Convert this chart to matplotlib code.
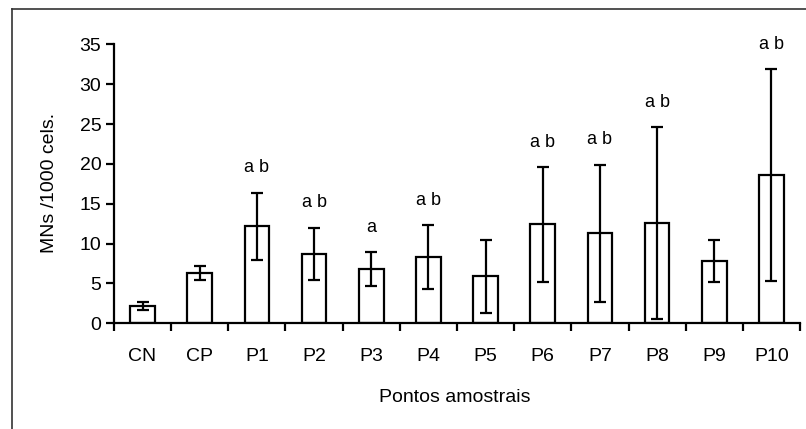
import matplotlib.pyplot as plt
import numpy as np
from matplotlib.lines import Line2D

plt.rcParams['font.family'] = ['Liberation Sans', 'DejaVu Sans']

# dados
categorias = ["CN", "CP", "P1", "P2", "P3", "P4", "P5", "P6", "P7", "P8", "P9", "P10"]
medias = [2.2, 6.3, 12.2, 8.7, 6.8, 8.3, 5.9, 12.4, 11.3, 12.6, 7.8, 18.6]
erros = [0.5, 0.9, 4.2, 3.3, 2.1, 4.0, 4.6, 7.2, 8.6, 12.0, 2.6, 13.3]
letras = ["", "", "a b", "a b", "a", "a b", "", "a b", "a b", "a b", "", "a b"]

fig = plt.figure(figsize=(8.06, 4.29), dpi=100)
ax = fig.add_axes([0.1414, 0.2464, 0.8512, 0.6503])

x = np.arange(len(categorias))
ax.bar(x, medias, width=0.43, color="white", edgecolor="black", linewidth=1.6, zorder=2)
ax.errorbar(x, medias, yerr=erros, fmt="none", ecolor="black", elinewidth=1.6,
            capsize=4, capthick=1.6, zorder=3)

for xi, m, e, txt in zip(x, medias, erros, letras):
    if txt:
        ax.annotate(txt, xy=(xi, m + e), xytext=(0, 25), textcoords="offset pixels",
                    ha="center", va="center", fontsize=13)

ax.set_xlim(-0.5, len(categorias) - 0.5)
ax.set_ylim(0, 35)
ax.set_yticks(range(0, 36, 5))
ax.set_xticks(x)
ax.set_xticklabels(categorias, fontsize=14)
ax.set_xticks(np.arange(-0.5, len(categorias)), minor=True)
ax.tick_params(axis="x", which="major", length=0, pad=18)
ax.tick_params(axis="x", which="minor", length=6, width=1.6, direction="out")
ax.tick_params(axis="y", length=6, width=1.6, direction="out", labelsize=14, pad=3)

for s in ["top", "right"]:
    ax.spines[s].set_visible(False)
for s in ["left", "bottom"]:
    ax.spines[s].set_linewidth(1.6)

fig.text(50 / 806, 1 - 183 / 429, "MNs /1000 cels.", rotation=90, ha="center", va="center", fontsize=14)
fig.text(455 / 806, 1 - 397 / 429, "Pontos amostrais", ha="center", va="center", fontsize=14)

# moldura externa
fig.add_artist(Line2D([12 / 806, 1.0], [1 - 9 / 429, 1 - 9 / 429], color="#333333", linewidth=1.2))
fig.add_artist(Line2D([12 / 806, 12 / 806], [0, 1 - 9 / 429], color="#333333", linewidth=1.2))

fig.savefig("out.png", dpi=100)
